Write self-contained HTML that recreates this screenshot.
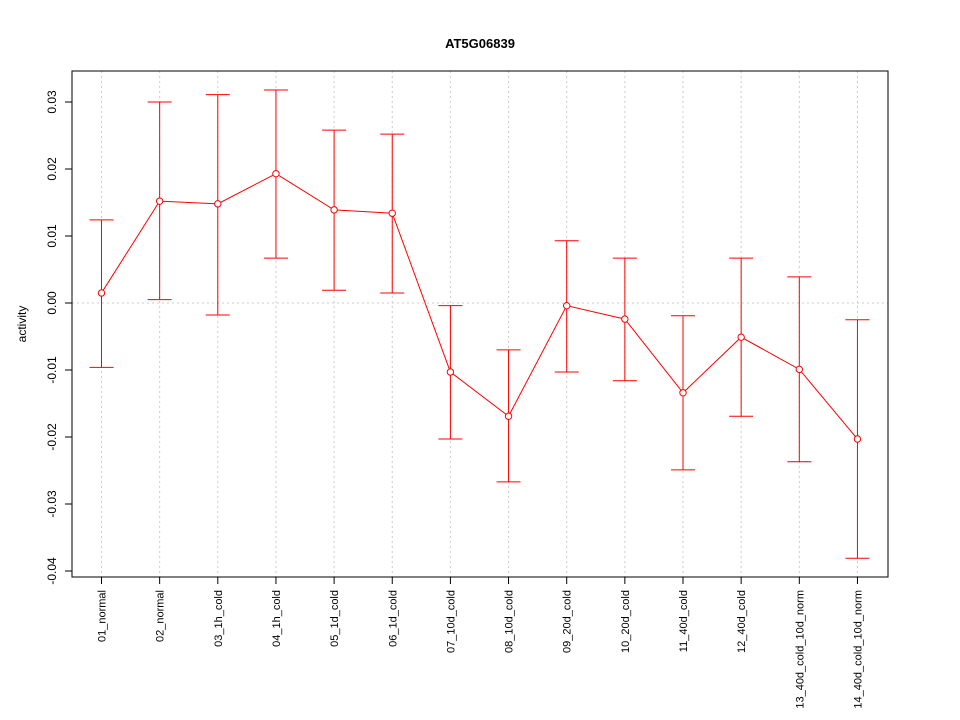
<!DOCTYPE html>
<html><head><meta charset="utf-8"><style>
html,body{margin:0;padding:0;background:#fff;}
svg{display:block;font-family:"Liberation Sans",sans-serif;}
</style></head><body>
<svg id="chart" width="960" height="720" xmlns="http://www.w3.org/2000/svg">
<text x="480" y="48" text-anchor="middle" font-size="13" font-weight="bold">AT5G06839</text>
<text transform="translate(26,324) rotate(-90)" text-anchor="middle" font-size="12">activity</text>
<g id="grid"></g><g id="marks"></g><g id="axes"></g>
<rect x="72" y="71" width="816" height="506" fill="none" stroke="#000"/>
</svg>
<script>
const categories=["01_normal","02_normal","03_1h_cold","04_1h_cold","05_1d_cold","06_1d_cold","07_10d_cold","08_10d_cold","09_20d_cold","10_20d_cold","11_40d_cold","12_40d_cold","13_40d_cold_10d_norm","14_40d_cold_10d_norm"];
const means=[0.0015,0.0152,0.0148,0.0193,0.0139,0.0134,-0.0103,-0.0169,-0.0004,-0.0024,-0.0134,-0.0051,-0.0099,-0.0203];
const upper=[0.0124,0.0300,0.0311,0.0318,0.0258,0.0252,-0.0004,-0.0070,0.0093,0.0067,-0.0019,0.0067,0.0039,-0.0025];
const lower=[-0.0096,0.0005,-0.0018,0.0067,0.0019,0.0015,-0.0203,-0.0267,-0.0103,-0.0116,-0.0249,-0.0169,-0.0237,-0.0381];
const yTicks=[0.03,0.02,0.01,0.00,-0.01,-0.02,-0.03,-0.04];
const yTickLabels=["0.03","0.02","0.01","0.00","-0.01","-0.02","-0.03","-0.04"];
const NS="http://www.w3.org/2000/svg";
const y=v=>303-v*6700;
const x=i=>101.5+i*58.15;
function mk(parent,tag,attrs){const e=document.createElementNS(NS,tag);for(const k in attrs)e.setAttribute(k,attrs[k]);document.getElementById(parent).appendChild(e);return e;}
categories.forEach((c,i)=>{
 const g=mk("grid","line",{x1:x(i),x2:x(i),y1:71,y2:577,stroke:"#ccc","stroke-dasharray":"2,3"});
 
 
 const t=mk("axes","line",{x1:x(i),x2:x(i),y1:577,y2:584,stroke:"#000"});
 
 
 const l=mk("axes","text",{x:0,y:0,"font-size":"11","text-anchor":"end",transform:`translate(${x(i)+4},590) rotate(-90)`});
 l.textContent=c;
 
 
});
const h=mk("grid","line",{x1:72,x2:888,y1:y(0),y2:y(0),stroke:"#ccc","stroke-dasharray":"2,3"});


yTicks.forEach((v,i)=>{
 const t=mk("axes","line",{x1:65,x2:72,y1:y(v),y2:y(v),stroke:"#000"});
 
 
 const l=mk("axes","text",{x:0,y:0,"font-size":"12","text-anchor":"middle",transform:`translate(56,${y(v)}) rotate(-90)`});
 l.textContent=yTickLabels[i];
 
 
});
means.forEach((m,i)=>{
 const b=mk("marks","line",{x1:x(i),x2:x(i),y1:y(upper[i]),y2:y(lower[i]),stroke:"#f00"});
 
 
 [upper[i],lower[i]].forEach(v=>{
  const c=mk("marks","line",{x1:x(i)-12,x2:x(i)+12,y1:y(v),y2:y(v),stroke:"#f00"});
  
  
 });
});
const p=mk("marks","polyline",{points:means.map((m,i)=>x(i)+","+y(m)).join(" "),fill:"none",stroke:"#f00"});


means.forEach((m,i)=>{
 const c=mk("marks","circle",{cx:x(i),cy:y(m),r:3.2,fill:"#fff",stroke:"#f00"});
 
 
});
</script>
</body></html>
